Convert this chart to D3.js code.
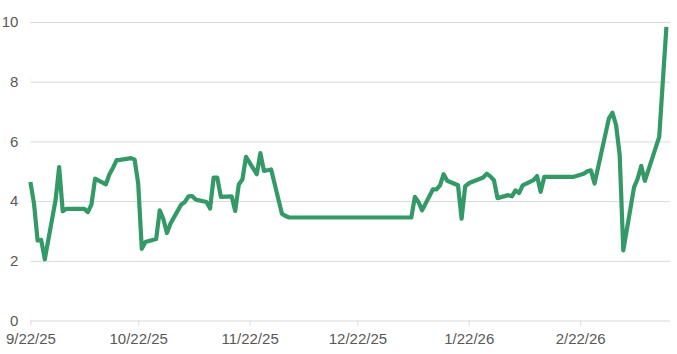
<!DOCTYPE html>
<html>
<head>
<meta charset="utf-8">
<script src="https://cdn.jsdelivr.net/npm/d3@7"></script>
<style>
  body { margin: 0; background: #fff; }
  text { font-family: "Liberation Sans", Arial, sans-serif; }
</style>
</head>
<body>
<div id="chart"></div>
<script>
var dates = [
  '9/22/25', '9/23/25', '9/24/25', '9/25/25', '9/26/25', '9/29/25', '9/30/25',
  '10/1/25', '10/2/25', '10/3/25', '10/6/25', '10/7/25', '10/8/25', '10/9/25', '10/10/25',
  '10/13/25', '10/14/25', '10/15/25', '10/16/25', '10/17/25', '10/20/25', '10/21/25',
  '10/22/25', '10/23/25', '10/24/25', '10/27/25', '10/28/25', '10/29/25', '10/30/25', '10/31/25',
  '11/3/25', '11/4/25', '11/5/25', '11/6/25', '11/7/25', '11/10/25', '11/11/25', '11/12/25',
  '11/13/25', '11/14/25', '11/17/25', '11/18/25', '11/19/25', '11/20/25', '11/21/25',
  '11/24/25', '11/25/25', '11/26/25', '11/28/25', '12/1/25', '12/2/25', '12/3/25',
  '1/6/26', '1/7/26', '1/8/26', '1/9/26', '1/12/26', '1/13/26', '1/14/26', '1/15/26', '1/16/26',
  '1/19/26', '1/20/26', '1/21/26', '1/22/26', '1/23/26', '1/26/26', '1/27/26', '1/28/26',
  '1/29/26', '1/30/26', '2/2/26', '2/3/26', '2/4/26', '2/5/26', '2/6/26', '2/9/26', '2/10/26',
  '2/11/26', '2/12/26', '2/20/26', '2/23/26', '2/24/26', '2/25/26', '2/26/26',
  '3/2/26', '3/3/26', '3/4/26', '3/5/26', '3/6/26', '3/9/26', '3/10/26', '3/11/26', '3/12/26',
  '3/16/26', '3/17/26', '3/18/26'
];

var values = [
  4.64, 3.92, 2.68, 2.70, 2.05, 4.03, 5.14,
  3.66, 3.74, 3.74, 3.74, 3.74, 3.63, 3.89, 4.75,
  4.56, 4.90, 5.12, 5.37, 5.38, 5.44, 5.39,
  4.59, 2.40, 2.63, 2.73, 3.69, 3.40, 2.93, 3.25,
  3.89, 3.97, 4.16, 4.17, 4.05, 3.97, 3.75, 4.79,
  4.79, 4.14, 4.16, 3.67, 4.56, 4.72, 5.48,
  4.90, 5.61, 5.01, 5.06, 3.58, 3.50, 3.45,
  3.45, 4.14, 3.97, 3.69, 4.39, 4.39, 4.53, 4.90, 4.68,
  4.53, 3.41, 4.50, 4.59, 4.65, 4.79, 4.92, 4.83,
  4.70, 4.10, 4.20, 4.16, 4.36, 4.27, 4.53, 4.70, 4.84,
  4.31, 4.81, 4.81, 4.92, 5.00, 5.03, 4.59,
  6.77, 6.96, 6.54, 5.54, 2.35, 4.47, 4.75, 5.18, 4.68,
  6.15, 8.00, 9.84
];

var xTicks = [ '9/22/25', '10/22/25', '11/22/25', '12/22/25', '1/22/26', '2/22/26' ];
var yTicks = [ 0, 2, 4, 6, 8, 10 ];
var xDomain = [ '9/22/25', '3/19/26' ];

var parse = d3.timeParse( '%-m/%-d/%y' );
var fmt = d3.timeFormat( '%-m/%-d/%y' );

var width = 677, height = 354;
var margin = { top: 22, right: 7, bottom: 33.5, left: 30.4 };

var data = dates.map( ( d, i ) => ( { date: parse( d ), value: values[ i ] } ) );

var xScale = d3.scaleTime()
  .domain( xDomain.map( parse ) )
  .range( [ margin.left, width - margin.right ] );

var yScale = d3.scaleLinear()
  .domain( [ 0, 10 ] )
  .range( [ height - margin.bottom, margin.top ] );

var svg = d3.select( '#chart' ).append( 'svg' )
  .attr( 'width', width )
  .attr( 'height', height );

// grid + y labels
var yAxis = d3.axisLeft( yScale )
  .tickValues( yTicks )
  .tickSize( -( width - margin.right - margin.left ) )
  .tickPadding( 12 );

svg.append( 'g' )
  .attr( 'transform', 'translate(' + margin.left + ',0)' )
  .call( yAxis )
  .call( g => g.select( '.domain' ).remove() )
  .call( g => g.selectAll( '.tick line' ).attr( 'stroke', '#d9d9d9' ) )
  .call( g => g.selectAll( '.tick text' )
    .attr( 'fill', '#595959' )
    .attr( 'font-size', 15 ) );

// x axis
var xAxis = d3.axisBottom( xScale )
  .tickValues( xTicks.map( parse ) )
  .tickFormat( fmt )
  .tickSize( 5 )
  .tickPadding( 8 );

svg.append( 'g' )
  .attr( 'transform', 'translate(0,' + yScale( 0 ) + ')' )
  .call( xAxis )
  .call( g => g.select( '.domain' ).remove() )
  .call( g => g.selectAll( '.tick line' ).attr( 'stroke', '#d9d9d9' ) )
  .call( g => g.selectAll( '.tick text' )
    .attr( 'fill', '#595959' )
    .attr( 'font-size', 15 ) );

var line = d3.line()
  .x( d => xScale( d.date ) )
  .y( d => yScale( d.value ) );

svg.append( 'path' )
  .datum( data )
  .attr( 'fill', 'none' )
  .attr( 'stroke', '#339966' )
  .attr( 'stroke-width', 4.2 )
  .attr( 'stroke-linejoin', 'round' )
  .attr( 'd', line );
</script>
</body>
</html>
